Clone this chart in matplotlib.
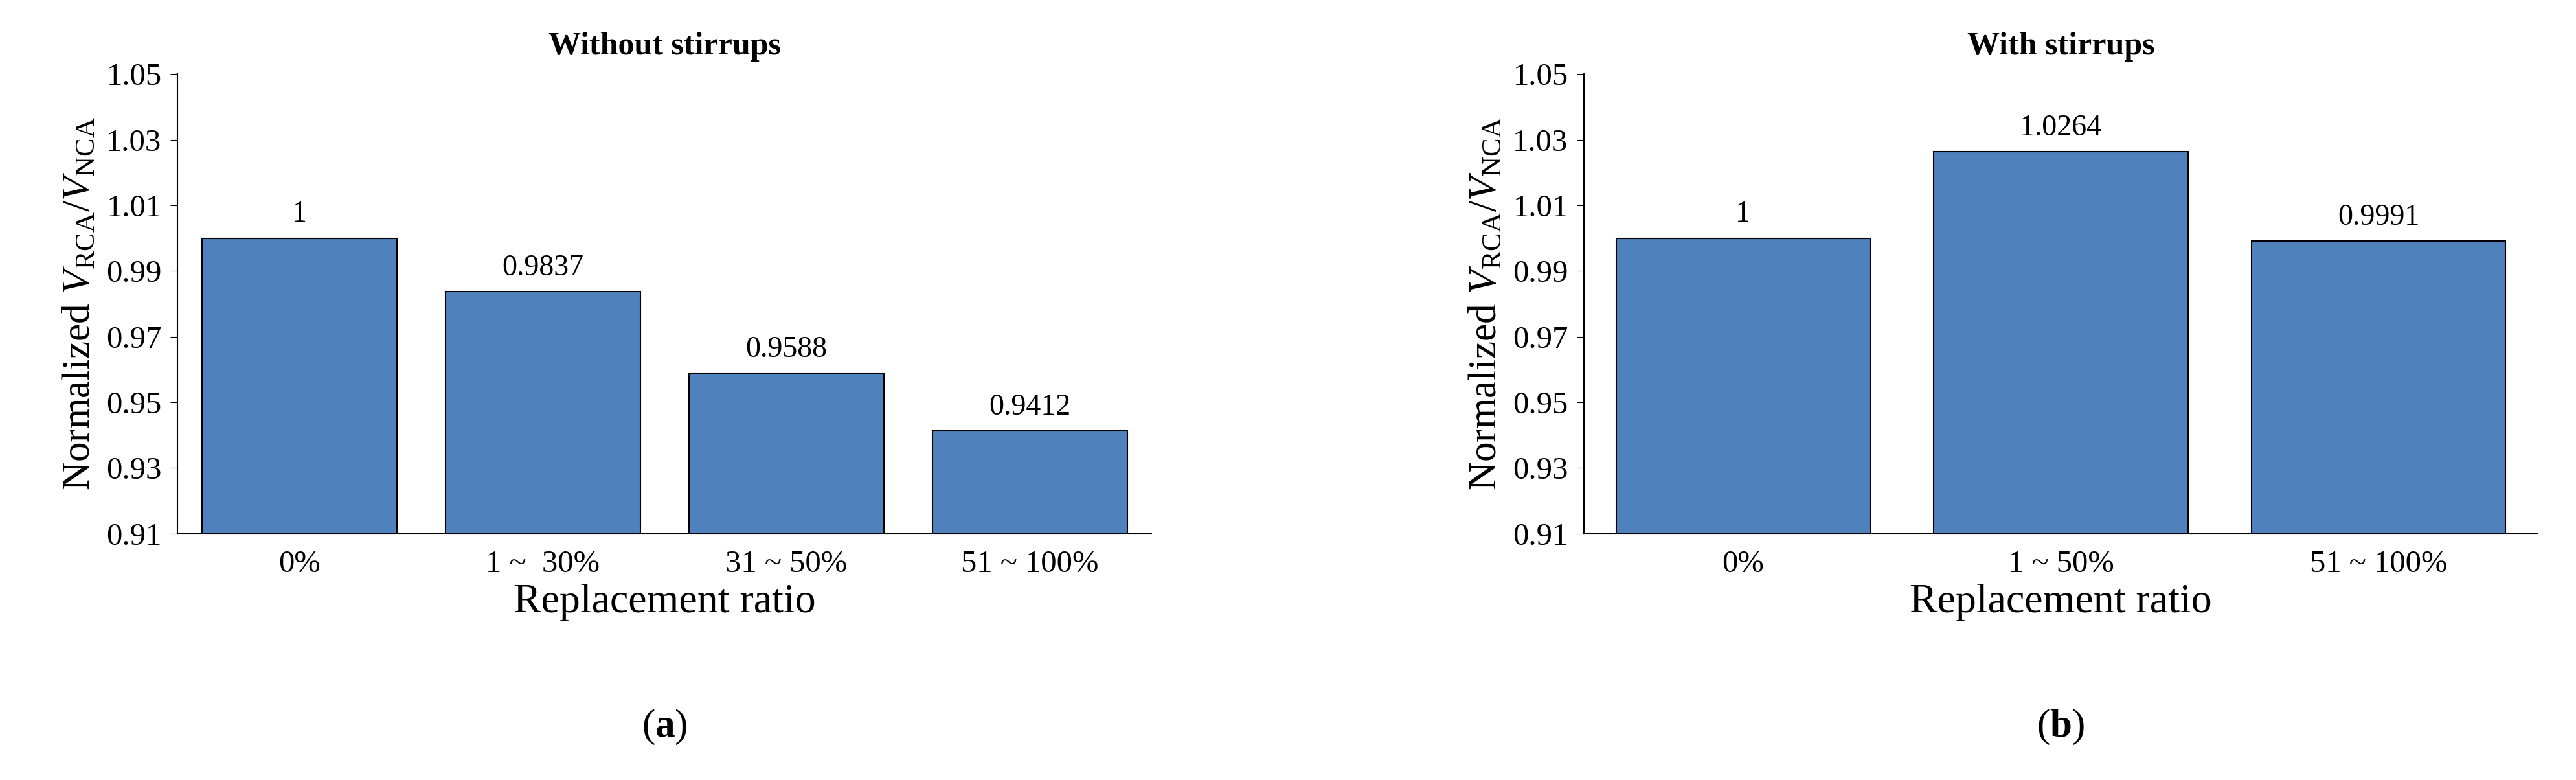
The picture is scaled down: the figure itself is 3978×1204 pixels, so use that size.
import matplotlib
matplotlib.use('Agg')
import matplotlib.pyplot as plt

plt.rcParams['font.family'] = ['Liberation Serif', 'DejaVu Serif']
plt.rcParams['mathtext.fontset'] = 'custom'
plt.rcParams['mathtext.rm'] = 'Liberation Serif'
plt.rcParams['mathtext.it'] = 'Liberation Serif:italic'
plt.rcParams['mathtext.bf'] = 'Liberation Serif:bold'

BAR_COLOR = '#4F81BD'

cats_a = ['0%', '1 ~  30%', '31 ~ 50%', '51 ~ 100%']
vals_a = [1.0, 0.9837, 0.9588, 0.9412]
labels_a = ['1', '0.9837', '0.9588', '0.9412']

cats_b = ['0%', '1 ~ 50%', '51 ~ 100%']
vals_b = [1.0, 1.0264, 0.9991]
labels_b = ['1', '1.0264', '0.9991']

yticks = [0.91, 0.93, 0.95, 0.97, 0.99, 1.01, 1.03, 1.05]


def draw(ax, cats, vals, labels, title, tag):
    x = range(len(cats))
    ax.bar(x, [v - 0.91 for v in vals], bottom=0.91, width=0.8,
           color=BAR_COLOR, edgecolor='black', linewidth=1.5)
    for xi, v, lab in zip(x, vals, labels):
        ax.text(xi, v + 0.003, lab, ha='center', va='bottom', fontsize=33)
    ax.set_ylim(0.91, 1.05)
    ax.set_xlim(-0.5, len(cats) - 0.5)
    ax.set_yticks(yticks)
    ax.set_yticklabels([f'{t:.2f}' for t in yticks])
    ax.set_xticks(list(x))
    ax.set_xticklabels(cats)
    ax.tick_params(axis='both', labelsize=35, length=0, pad=18)
    ax.tick_params(axis='y', length=8, direction='out', pad=10)
    for s in ['top', 'right']:
        ax.spines[s].set_visible(False)
    for s in ['left', 'bottom']:
        ax.spines[s].set_linewidth(1.5)
    ax.set_title(title, fontsize=36, fontweight='bold', pad=22)
    ax.set_xlabel('Replacement ratio', fontsize=46, labelpad=6)
    ax.set_ylabel(r'Normalized $V_{\mathrm{RCA}}/V_{\mathrm{NCA}}$', fontsize=44, labelpad=10)
    ax.text(0.5, -0.38, f'($\\mathbf{{{tag}}}$)', transform=ax.transAxes,
            ha='center', va='top', fontsize=44)


fig = plt.figure(figsize=(39.78, 12.04), dpi=100)
ax1 = fig.add_axes([0.069, 0.316, 0.378, 0.589])
ax2 = fig.add_axes([0.615, 0.316, 0.37, 0.589])
draw(ax1, cats_a, vals_a, labels_a, 'Without stirrups', 'a')
draw(ax2, cats_b, vals_b, labels_b, 'With stirrups', 'b')
fig.savefig('out.png', dpi=100)
